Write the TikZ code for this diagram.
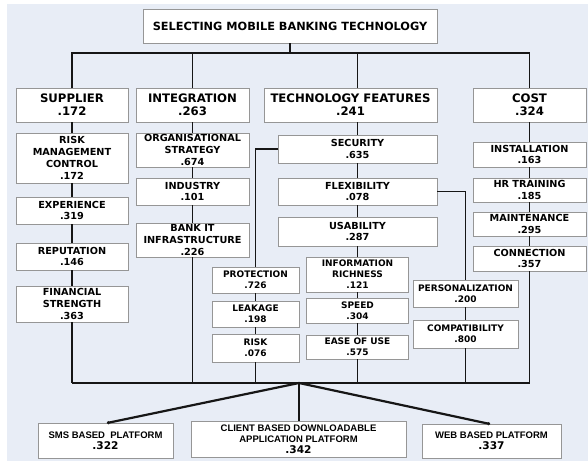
\documentclass[tikz,border=0pt]{standalone}
\usepackage{fontspec}
\setmainfont{DejaVu Sans}
\newfontfamily\arialfont{Liberation Sans}
\usetikzlibrary{arrows.meta}
\definecolor{paper}{RGB}{232,237,246}
\definecolor{frame}{RGB}{150,150,150}
\definecolor{ink}{RGB}{22,22,22}
\begin{document}
\begin{tikzpicture}[x=1pt,y=-1pt,
  box/.style={draw=frame,line width=0.6pt,fill=white,inner sep=0pt,outer sep=0pt,align=center},
  headbox/.style={box,font=\fontsize{11.7}{13.2}\selectfont\bfseries},
  itembox/.style={box,font=\fontsize{9.7}{11.8}\selectfont\bfseries},
  smallbox/.style={box,font=\fontsize{9.0}{11}\selectfont\bfseries},
  altbox/.style={box,font=\arialfont\fontsize{9.5}{11.2}\selectfont\bfseries},
  altnum/.style={font=\fontsize{10.6}{12}\selectfont\bfseries},
  link/.style={draw=ink,line width=1.4pt},
  busline/.style={draw=ink,line width=2.4pt},
  spoke/.style={draw=ink,line width=2.2pt,-{Circle[length=3pt]}}]
\useasboundingbox (0,0) rectangle (588,461);
\fill[paper] (7,4) rectangle (588,461);

% goal
\node[headbox,font=\fontsize{11.3}{13}\selectfont\bfseries,minimum width=294,minimum height=34] (goal) at (290,26) {SELECTING MOBILE BANKING TECHNOLOGY};

% criteria
\node[headbox,minimum width=112,minimum height=34] (sup) at (72,105) {SUPPLIER\\.172};
\node[headbox,minimum width=113,minimum height=34] (int) at (192.5,105) {INTEGRATION\\.263};
\node[headbox,minimum width=173,minimum height=34] (tf) at (350.5,105) {TECHNOLOGY FEATURES\\.241};
\node[headbox,minimum width=113,minimum height=34] (cost) at (529.5,105) {COST\\.324};

% supplier sub-criteria
\node[itembox,minimum width=112,minimum height=50] (rmc) at (72,158) {RISK\\MANAGEMENT\\CONTROL\\.172};
\node[itembox,minimum width=112,minimum height=27] (exp) at (72,210.5) {EXPERIENCE\\.319};
\node[itembox,minimum width=112,minimum height=27] (rep) at (72,256.5) {REPUTATION\\.146};
\node[itembox,minimum width=112,minimum height=36] (fin) at (72,304) {FINANCIAL\\STRENGTH\\.363};

% integration sub-criteria
\node[itembox,minimum width=113,minimum height=34] (org) at (192.5,150) {ORGANISATIONAL\\STRATEGY\\.674};
\node[itembox,minimum width=113,minimum height=27] (ind) at (192.5,191.5) {INDUSTRY\\.101};
\node[itembox,minimum width=113,minimum height=34] (bit) at (192.5,240) {BANK IT\\INFRASTRUCTURE\\.226};

% technology features sub-criteria
\node[itembox,minimum width=159,minimum height=28] (sec) at (357.5,149) {SECURITY\\.635};
\node[itembox,minimum width=159,minimum height=27] (flex) at (357.5,191.5) {FLEXIBILITY\\.078};
\node[itembox,minimum width=159,minimum height=29] (usa) at (357.5,231.5) {USABILITY\\.287};

\node[smallbox,minimum width=87,minimum height=26] (pro) at (255.5,280) {PROTECTION\\.726};
\node[smallbox,minimum width=87,minimum height=26] (leak) at (255.5,314) {LEAKAGE\\.198};
\node[smallbox,minimum width=87,minimum height=28] (risk) at (255.5,348) {RISK\\.076};

\node[smallbox,minimum width=102,minimum height=35] (inf) at (357.5,274.5) {INFORMATION\\RICHNESS\\.121};
\node[smallbox,minimum width=102,minimum height=25] (spd) at (357.5,310.5) {SPEED\\.304};
\node[smallbox,minimum width=102,minimum height=24] (ease) at (357.5,347) {EASE OF USE\\.575};

\node[smallbox,minimum width=105,minimum height=27] (pers) at (465.5,293.5) {PERSONALIZATION\\.200};
\node[smallbox,minimum width=105,minimum height=28] (comp) at (465.5,334) {COMPATIBILITY\\.800};

% cost sub-criteria
\node[itembox,minimum width=113,minimum height=25] (inst) at (529.5,154.5) {INSTALLATION\\.163};
\node[itembox,minimum width=113,minimum height=24] (hr) at (529.5,190) {HR TRAINING\\.185};
\node[itembox,minimum width=113,minimum height=24] (mnt) at (529.5,224) {MAINTENANCE\\.295};
\node[itembox,minimum width=113,minimum height=25] (conn) at (529.5,258.5) {CONNECTION\\.357};

% alternatives
\node[altbox,minimum width=135,minimum height=35] (sms) at (105.5,440.5) {SMS BASED\ \ PLATFORM\\{\rmfamily\fontsize{10.6}{12.5}\selectfont .322}};
\node[altbox,minimum width=215,minimum height=36] (cli) at (298.5,439) {CLIENT BASED DOWNLOADABLE\\APPLICATION PLATFORM\\{\rmfamily\fontsize{10.6}{11.5}\selectfont .342}};
\node[altbox,minimum width=139,minimum height=34] (web) at (491.5,441) {WEB BASED PLATFORM\\{\rmfamily\fontsize{10.6}{12.5}\selectfont .337}};

% junctions
\coordinate (topbus) at (290,53);
\coordinate (hub) at (299,383);

% goal to criteria
\draw[link] (goal.south) -- (topbus);
\draw[link] (sup.north) |- (topbus) -| (cost.north);
\draw[link] (int.north) -- (int.north |- topbus);
\draw[link] (sec.north |- tf.north) -- (sec.north |- topbus);

% supplier chain
\draw[link] (sup.south) -- (rmc.north) (rmc.south) -- (exp.north)
  (exp.south) -- (rep.north) (rep.south) -- (fin.north);
% integration chain
\draw[link] (int.south) -- (org.north) (org.south) -- (ind.north)
  (ind.south) -- (bit.north);
% technology features chain
\draw[link] (sec.north |- tf.south) -- (sec.north) (sec.south) -- (flex.north)
  (flex.south) -- (usa.north) (usa.south) -- (inf.north)
  (inf.south) -- (spd.north) (spd.south) -- (ease.north);
\draw[link] (sec.west) -| (pro.north);
\draw[link] (pro.south) -- (leak.north) (leak.south) -- (risk.north);
\draw[link] (flex.east) -| (pers.north);
\draw[link] (pers.south) -- (comp.north);
% cost chain
\draw[link] (cost.south) -- (inst.north) (inst.south) -- (hr.north)
  (hr.south) -- (mnt.north) (mnt.south) -- (conn.north);

% drops to the lower bus
\draw[link] (fin.south) -- (fin.south |- hub);
\draw[link] (bit.south) -- (bit.south |- hub);
\draw[link] (risk.south) -- (risk.south |- hub);
\draw[link] (ease.south) -- (ease.south |- hub);
\draw[link] (comp.south) -- (comp.south |- hub);
\draw[link] (conn.south) -- (conn.south |- hub);
\draw[busline] (fin.south |- hub) -- (conn.south |- hub);

% alternatives
\draw[spoke] (hub) -- (107,423);
\draw[busline] (hub) -- (hub |- cli.north);
\draw[spoke] (hub) -- (490,424);
\end{tikzpicture}
\end{document}
